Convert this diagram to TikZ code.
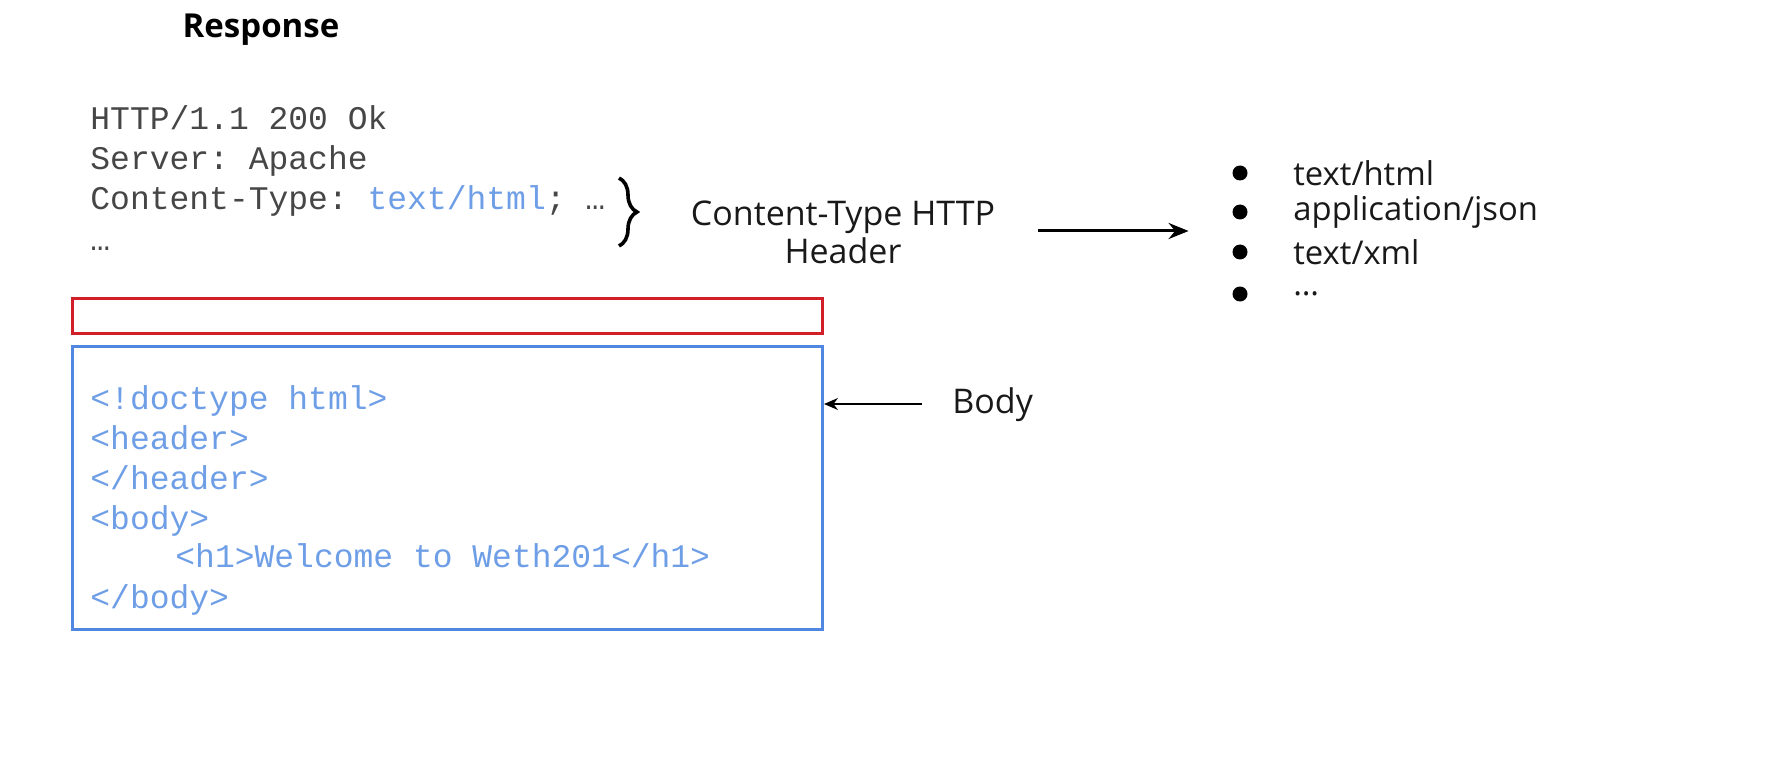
\documentclass[tikz,border=0pt]{standalone}
\usepackage{fontspec}
\setmainfont{Open Sans}
\setmonofont{Liberation Mono}
\usetikzlibrary{arrows.meta,decorations.pathreplacing}
\definecolor{codegray}{RGB}{70,70,70}
\definecolor{codeblue}{RGB}{110,158,230}
\definecolor{boxblue}{RGB}{80,135,225}
\definecolor{boxred}{RGB}{210,30,40}
\begin{document}
\begin{tikzpicture}[x=0.5pt,y=-0.5pt,
  code/.style={anchor=base west,inner sep=0pt,font=\ttfamily\fontsize{16.5}{20}\selectfont},
  label/.style={inner sep=0pt,font=\fontsize{17}{20}\selectfont,text=black!90},
  item/.style={inner sep=0pt,font=\fontsize{16.4}{20}\selectfont,text=black!90},
  dot/.style={circle,fill=black,inner sep=0pt,minimum size=7.5pt},
  conn/.style={-{Stealth[length=10pt,width=8pt]},line width=1.5pt},
  thinconn/.style={-{Stealth[length=7pt,width=6pt]},line width=0.7pt}]
\useasboundingbox (0,0) rectangle (1766,770);
% title
\node[inner sep=0pt,font=\bfseries\fontsize{16.5}{20}\selectfont,anchor=center] (title) at (261,30) {Response};
% header lines
\node[code,text=codegray] (l1) at (90,130) {HTTP/1.1 200 Ok};
\node[code,text=codegray] (l2) at (90,170) {Server: Apache};
\node[code,text=codegray] (l3) at (90,210) {Content-Type: \textcolor{codeblue}{text/html}; …};
\node[code,text=codegray] (l4) at (90,250) {…};
% brace
\coordinate (bt) at (619,178);
\coordinate (bb) at (619,246);
\draw[line width=1.8pt,decorate,decoration={brace,amplitude=9pt}] (bt) -- (bb);
% content-type label
\node[label,align=center] (ct) at (843,232) {Content-Type HTTP\\[-1pt]Header};
\coordinate (a1) at (1038,231);
\node[inner sep=0pt] (list) at (1190,231) {};
\draw[conn] (a1) -- (list);
% bullet list
\foreach \y/\t/\n in {173/text\slash html/b1,212/application\slash json/b2,252/text\slash xml/b3,294/…/b4}{
  \node[dot] (\n d) at (1240,\y) {};
  \node[item,anchor=west] (\n) at (1293,\y) {\t};
}
% red box
\node[draw=boxred,line width=1.5pt,minimum width=375pt,minimum height=17.5pt,inner sep=0pt,anchor=north west] (red) at (71,297) {};
% blue box
\node[draw=boxblue,line width=1.5pt,minimum width=375pt,minimum height=141.5pt,inner sep=0pt,anchor=north west] (blue) at (71,345) {};
% body code
\node[code,text=codeblue] (c1) at (90,409) {<!doctype html>};
\node[code,text=codeblue] (c2) at (90,449) {<header>};
\node[code,text=codeblue] (c3) at (90,489) {</header>};
\node[code,text=codeblue] (c4) at (90,529) {<body>};
\node[code,text=codeblue] (c5) at (175,567) {<h1>Welcome to Weth201</h1>};
\node[code,text=codeblue] (c6) at (90,608) {</body>};
% body label
\node[label,anchor=west] (body) at (952,405) {Body};
\coordinate (bs) at (922,404);
\draw[thinconn] (bs) -- (blue.east |- bs);
\end{tikzpicture}
\end{document}
